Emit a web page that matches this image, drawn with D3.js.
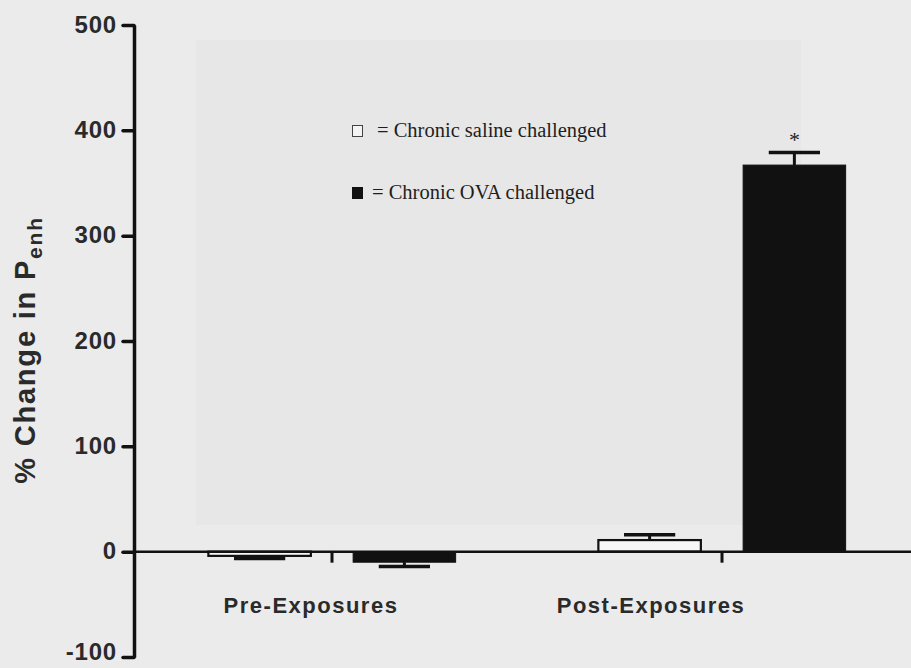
<!DOCTYPE html>
<html>
<head>
<meta charset="utf-8">
<script src="https://cdn.jsdelivr.net/npm/d3@7"></script>
<style>
  html, body { margin: 0; padding: 0; background: #eaeaea; }
  svg { display: block; }
</style>
</head>
<body>
<script>
// ---- data ----
const categories = ["Pre-Exposures", "Post-Exposures"];
const groups = ["Chronic saline challenged", "Chronic OVA challenged"];
const salineMeans = [-4, 11];
const salineSEM = [2.5, 5];
const ovaMeans = [-10, 367];
const ovaSEM = [4, 12];
const ovaSignificance = ["", "*"];
const yTicks = [-100, 0, 100, 200, 300, 400, 500];
const yTitle = "% Change in P";
const yTitleSub = "enh";

const W = 911, H = 668;
const svg = d3.select("body").append("svg").attr("width", W).attr("height", H);

// scan-like background
svg.append("rect").attr("width", W).attr("height", H).attr("fill", "#ebebeb");
svg.append("rect").attr("x", 196).attr("y", 40).attr("width", 605).attr("height", 485).attr("fill", "#e7e7e7");

const y = d3.scaleLinear().domain([-100, 500]).range([657, 25]);
const x0 = d3.scaleBand().domain(categories).range([137, 917]);
const x1 = d3.scaleBand().domain(groups).range([0, x0.bandwidth()]).paddingInner(0.292).paddingOuter(0.493);

const rows = [];
categories.forEach((c, i) => {
  rows.push({cat: c, grp: groups[0], v: salineMeans[i], e: salineSEM[i], sig: ""});
  rows.push({cat: c, grp: groups[1], v: ovaMeans[i], e: ovaSEM[i], sig: ovaSignificance[i]});
});

const ink = "#111";

// bars
svg.selectAll("rect.bar").data(rows).enter().append("rect")
  .attr("class", "bar")
  .attr("x", d => x0(d.cat) + x1(d.grp))
  .attr("width", x1.bandwidth())
  .attr("y", d => y(Math.max(0, d.v)))
  .attr("height", d => Math.abs(y(d.v) - y(0)))
  .attr("fill", d => d.grp === groups[0] ? "#f6f6f6" : ink)
  .attr("stroke", ink)
  .attr("stroke-width", d => d.grp === groups[0] ? 2.2 : 1);

// error bars
const eb = svg.selectAll("g.err").data(rows).enter().append("g").attr("class", "err");
eb.append("line")
  .attr("x1", d => x0(d.cat) + x1(d.grp) + x1.bandwidth() / 2)
  .attr("x2", d => x0(d.cat) + x1(d.grp) + x1.bandwidth() / 2)
  .attr("y1", d => y(d.v))
  .attr("y2", d => y(d.v + Math.sign(d.v) * d.e))
  .attr("stroke", ink).attr("stroke-width", 3);
eb.append("line")
  .attr("x1", d => x0(d.cat) + x1(d.grp) + x1.bandwidth() * 0.25)
  .attr("x2", d => x0(d.cat) + x1(d.grp) + x1.bandwidth() * 0.75)
  .attr("y1", d => y(d.v + Math.sign(d.v) * d.e))
  .attr("y2", d => y(d.v + Math.sign(d.v) * d.e))
  .attr("stroke", ink).attr("stroke-width", 3.5);

// significance
svg.selectAll("text.sig").data(rows.filter(d => d.sig)).enter().append("text")
  .attr("class", "sig")
  .attr("x", d => x0(d.cat) + x1(d.grp) + x1.bandwidth() / 2)
  .attr("y", d => y(d.v + d.e) - 5)
  .attr("text-anchor", "middle")
  .attr("font-family", "Liberation Serif, Times New Roman, serif")
  .attr("font-size", 22)
  .attr("fill", "#222")
  .text(d => d.sig);

// zero baseline
svg.append("line")
  .attr("x1", 134).attr("x2", W)
  .attr("y1", y(0)).attr("y2", y(0))
  .attr("stroke", ink).attr("stroke-width", 2.5);

// x ticks
svg.selectAll("line.xt").data(categories).enter().append("line")
  .attr("class", "xt")
  .attr("x1", d => x0(d) + x0.bandwidth() / 2)
  .attr("x2", d => x0(d) + x0.bandwidth() / 2)
  .attr("y1", y(0)).attr("y2", y(0) + 11)
  .attr("stroke", ink).attr("stroke-width", 3);

// x labels
const labelShift = [-21, -71];
svg.selectAll("text.xl").data(categories).enter().append("text")
  .attr("class", "xl")
  .attr("x", (d, i) => x0(d) + x0.bandwidth() / 2 + labelShift[i])
  .attr("y", 613)
  .attr("text-anchor", "middle")
  .attr("font-family", "Liberation Sans, Arial, sans-serif")
  .attr("font-weight", "bold")
  .attr("font-size", 22)
  .attr("letter-spacing", 1.5)
  .attr("fill", "#2a2a2a")
  .text(d => d);

// y axis
const yAxis = svg.append("g")
  .attr("transform", "translate(134,0)")
  .call(d3.axisLeft(y).tickValues(yTicks).tickSize(11).tickSizeOuter(0).tickPadding(6).tickFormat(d => String(d)));
yAxis.select(".domain").attr("stroke", ink).attr("stroke-width", 3.5).attr("stroke-linejoin", "round");
yAxis.selectAll(".tick line").attr("stroke", ink).attr("stroke-width", 3.5).attr("stroke-linecap", "round");
yAxis.selectAll(".tick text")
  .attr("font-family", "Liberation Sans, Arial, sans-serif")
  .attr("font-weight", "bold")
  .attr("font-size", 24)
  .attr("letter-spacing", 0.8)
  .attr("dy", d => d === yTicks[0] ? "0.1em" : "0.3em")
  .attr("fill", "#2a2a2a");

// y title
const yt = svg.append("text")
  .attr("transform", "translate(35,350) rotate(-90)")
  .attr("text-anchor", "middle")
  .attr("font-family", "Liberation Sans, Arial, sans-serif")
  .attr("font-weight", "bold")
  .attr("font-size", 29)
  .attr("letter-spacing", 1.8)
  .attr("fill", "#2a2a2a");
yt.append("tspan").text(yTitle);
yt.append("tspan").attr("font-size", 21).attr("dy", 7).text(yTitleSub);

// legend
const leg = svg.selectAll("g.leg").data(groups).enter().append("g")
  .attr("class", "leg")
  .attr("transform", (d, i) => `translate(352,${125 + i * 62})`);
leg.append("rect")
  .attr("x", 0.5).attr("y", 0.5).attr("width", 10).attr("height", 11)
  .attr("fill", (d, i) => i === 0 ? "#f4f4f4" : ink)
  .attr("stroke", (d, i) => i === 0 ? "#444" : ink)
  .attr("stroke-width", 1);
leg.append("text")
  .attr("x", (d, i) => i === 0 ? 25 : 20)
  .attr("y", 12)
  .attr("font-family", "Liberation Serif, Times New Roman, serif")
  .attr("font-size", 20.5)
  .attr("fill", "#1e1e1e")
  .text(d => "= " + d);
</script>
</body>
</html>
